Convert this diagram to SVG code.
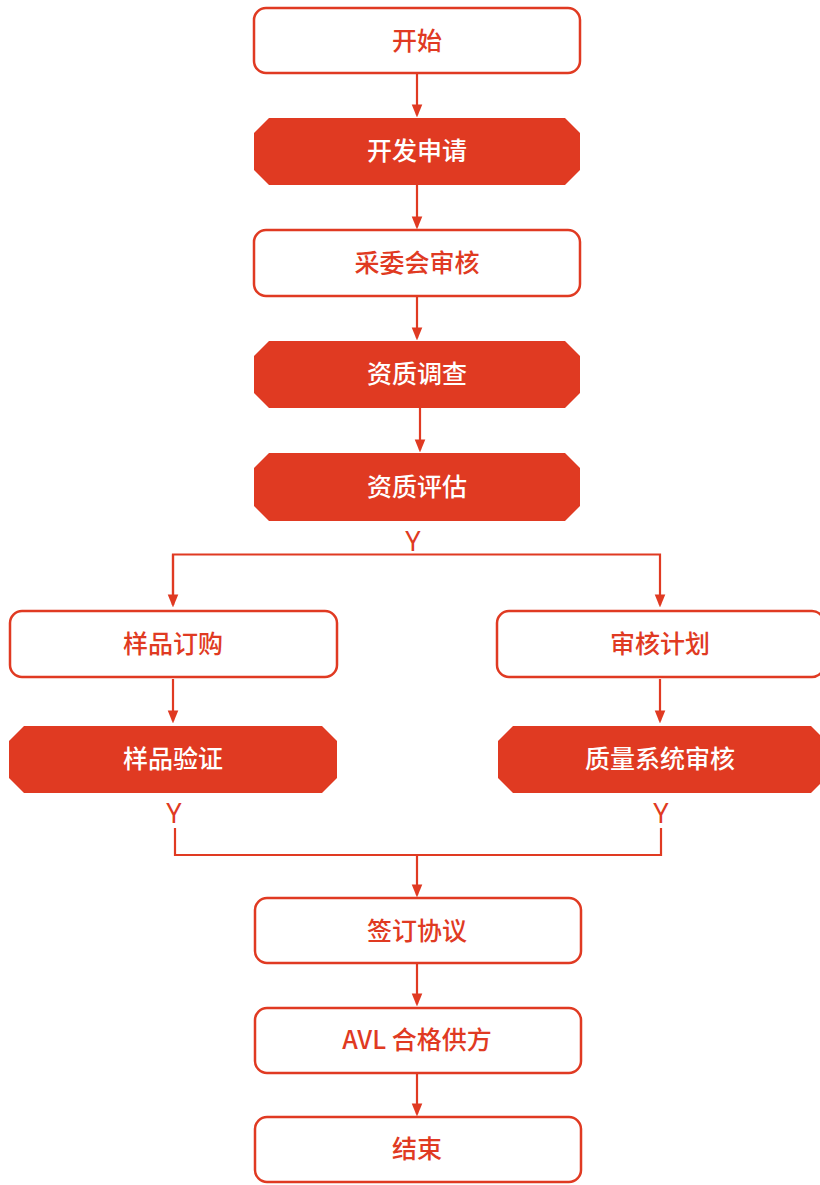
<svg xmlns="http://www.w3.org/2000/svg" width="820" height="1185" viewBox="0 0 820 1185">
<defs>
<style>
.r{fill:#fff;stroke:#E03A22;stroke-width:2.5}
.o{fill:#E03A22}
.t{font-family:"Noto Sans CJK SC","Noto Sans",sans-serif;font-size:25px;font-weight:500;text-anchor:middle}
.tr{fill:#E03A22}
.tw{fill:#fff}
.y{font-family:"Noto Sans","Noto Sans CJK SC",sans-serif;font-size:27px;font-weight:400;fill:#E03A22;text-anchor:middle}
.c{fill:none;stroke:#E03A22;stroke-width:2.2}
</style>
<marker id="a" markerWidth="13" markerHeight="16" refX="13" refY="6.5" orient="auto" markerUnits="userSpaceOnUse" viewBox="0 0 16 13">
<path d="M0,0 L16,6.5 L0,13 Z" fill="#E03A22"/>
</marker>
</defs>
<rect width="820" height="1185" fill="#fff"/>
<g id="connectors">
<line class="c" x1="417" y1="74" x2="417" y2="115" marker-end="url(#a)"/>
<line class="c" x1="417" y1="185" x2="417" y2="227" marker-end="url(#a)"/>
<line class="c" x1="417" y1="297" x2="417" y2="338" marker-end="url(#a)"/>
<line class="c" x1="420" y1="408" x2="420" y2="450" marker-end="url(#a)"/>
<polyline class="c" points="173,605 173,554.5 660,554.5 660,605" marker-end="url(#a)"/>
<line class="c" x1="173" y1="554.5" x2="173" y2="605" marker-end="url(#a)"/>
<line class="c" x1="173" y1="679" x2="173" y2="721" marker-end="url(#a)"/>
<line class="c" x1="660" y1="679" x2="660" y2="721" marker-end="url(#a)"/>
<polyline class="c" points="175,828 175,855 661,855 661,828"/>
<line class="c" x1="417" y1="855" x2="417" y2="895" marker-end="url(#a)"/>
<line class="c" x1="417" y1="964" x2="417" y2="1004" marker-end="url(#a)"/>
<line class="c" x1="417" y1="1074" x2="417" y2="1114" marker-end="url(#a)"/>
<text class="y" x="413" y="551">Y</text>
<text class="y" x="174" y="823">Y</text>
<text class="y" x="661" y="823">Y</text>
</g>
<g id="n1"><rect class="r" x="254" y="8" width="326" height="65" rx="12"/><text class="t tr" x="417" y="50">开始</text></g>
<g id="n2"><polygon class="o" points="269,118 565,118 580,133 580,170 565,185 269,185 254,170 254,133"/><text class="t tw" x="417" y="160">开发申请</text></g>
<g id="n3"><rect class="r" x="254" y="230" width="326" height="66" rx="12"/><text class="t tr" x="417" y="272">采委会审核</text></g>
<g id="n4"><polygon class="o" points="269,341 565,341 580,356 580,393 565,408 269,408 254,393 254,356"/><text class="t tw" x="417" y="383">资质调查</text></g>
<g id="n5"><polygon class="o" points="269,453 565,453 580,468 580,506 565,521 269,521 254,506 254,468"/><text class="t tw" x="417" y="496">资质评估</text></g>
<g id="n6"><rect class="r" x="10" y="611" width="327" height="66" rx="12"/><text class="t tr" x="173" y="653">样品订购</text></g>
<g id="n7"><rect class="r" x="497" y="611" width="327" height="66" rx="12"/><text class="t tr" x="660" y="653">审核计划</text></g>
<g id="n8"><polygon class="o" points="24,726 322,726 337,741 337,778 322,793 24,793 9,778 9,741"/><text class="t tw" x="173" y="768">样品验证</text></g>
<g id="n9"><polygon class="o" points="513,726 811,726 826,741 826,778 811,793 513,793 498,778 498,741"/><text class="t tw" x="660" y="768">质量系统审核</text></g>
<g id="n10"><rect class="r" x="255" y="898" width="326" height="65" rx="12"/><text class="t tr" x="417" y="940">签订协议</text></g>
<g id="n11"><rect class="r" x="255" y="1008" width="326" height="65" rx="12"/><text class="t tr" x="417" y="1049">AVL 合格供方</text></g>
<g id="n12"><rect class="r" x="255" y="1117" width="326" height="65" rx="12"/><text class="t tr" x="417" y="1158">结束</text></g>
</svg>
